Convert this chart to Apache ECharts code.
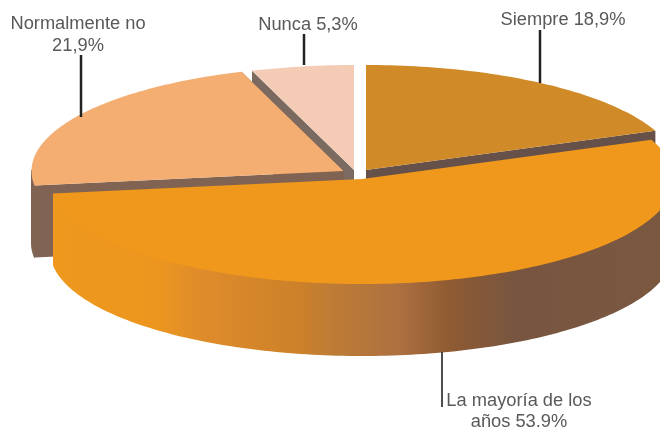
<!DOCTYPE html>
<html><head><meta charset="utf-8">
<style>html,body{margin:0;padding:0;background:#fff}#c{width:660px;height:429px}</style>
<script src="https://cdn.jsdelivr.net/npm/echarts@6/dist/echarts.min.js"></script>
</head><body><div id="c"></div>
<script>
// data (clockwise from 12 o'clock)
const categories = ['Siempre', 'La mayoría de los años', 'Normalmente no', 'Nunca'];
const values = [18.9, 53.9, 21.9, 5.3];
const valueLabels = ['18,9%', '53.9%', '21,9%', '5,3%'];

// layout & styles
const RX = 312, RY = 105, DEPTH = 72;
const centers = [[366,170],[362,179],[343.5,171],[354,170]];
const topColors = ['#d08a27','#f0981c','#f4ae72','#f4ccb6'];
const cutColors = ['#66504a','#7a5a42','#806352','#7b6a60'];
const drawOrder = [3,2,0,1];
const labelText = [
  categories[0]+' '+valueLabels[0],
  'La mayoría de los\naños '+valueLabels[1],
  categories[2]+'\n'+valueLabels[2],
  categories[3]+' '+valueLabels[3]
];
const labelPos = [[563,20],[519,411],[78,35],[308,25]];
const labelLine = [21,21,22,21];
const leaders = [[540,30,83,2.5],[442,352,407,1.6],[81,55,117,2.5],[304,34,65,2.5]];

const total = values.reduce((a,b)=>a+b,0);
const starts = []; let acc = 0;
values.forEach(v=>{starts.push(acc/total*Math.PI*2); acc+=v;});
const pt = (c,t,dy)=>[c[0]+RX*Math.sin(t), c[1]-RY*Math.cos(t)+(dy||0)];
function arc(c,a,b,dy){
  const out=[], n=Math.max(8,Math.ceil((b-a)/0.02));
  for(let i=0;i<=n;i++) out.push(pt(c,a+(b-a)*i/n,dy));
  return out;
}
const sideGradient = new echarts.graphic.LinearGradient(52,0,672,0,[
  {offset:0,color:'#ee981e'},{offset:0.17,color:'#ec961f'},{offset:0.24,color:'#df8c2b'},
  {offset:0.40,color:'#cc8129'},{offset:0.45,color:'#be7c35'},{offset:0.56,color:'#ad7040'},
  {offset:0.64,color:'#8f5b32'},{offset:0.75,color:'#775540'},{offset:1,color:'#7a5840'}
],true);

function renderSlice(params, api){
  const i = api.value(0), c = centers[i];
  const a = starts[i], b = a + api.value(1)/total*Math.PI*2;
  const children = [];
  const holdsFront = a<Math.PI && b>Math.PI;
  // cut faces: hidden on a wedge that holds the front of the pie
  if(!holdsFront){
    [a,b].forEach(t=>{
      const p = pt(c,t);
      children.push({type:'polygon',shape:{points:[c,p,[p[0],p[1]+DEPTH],[c[0],c[1]+DEPTH]]},style:{fill:cutColors[i]}});
    });
  }
  // outer wall (front half only); its upper edge sits just under the top face
  const fa = Math.max(a,Math.PI/2), fb = Math.min(b,Math.PI*1.5);
  if(fb>fa){
    const top = arc(c,fa,fb,-1), bot = arc(c,fa,fb,DEPTH).reverse();
    const wallStyle = holdsFront ? {fill:sideGradient} : {fill:cutColors[i],stroke:cutColors[i],lineWidth:1};
    children.push({type:'polygon',shape:{points:top.concat(bot)},style:wallStyle});
  }
  // top face
  children.push({type:'polygon',shape:{points:[c].concat(arc(c,a,b))},style:{fill:topColors[i]}});
  return {type:'group',children};
}
function renderLeader(params, api){
  const l = leaders[api.value(0)];
  return {type:'line',shape:{x1:l[0],y1:l[1],x2:l[0],y2:l[2]},style:{stroke:'#222',lineWidth:l[3]}};
}
function renderLabel(params, api){
  const i = api.value(0);
  return {type:'text',style:{x:labelPos[i][0],y:labelPos[i][1],text:labelText[i],fill:'#58595b',
    font:'18.3px "Liberation Sans", Arial, sans-serif',align:'center',verticalAlign:'middle',lineHeight:labelLine[i]}};
}
const sliceData = drawOrder.map(i=>[i,values[i]]);
const idx = values.map((v,i)=>[i]);
const chart = echarts.init(document.getElementById('c'),null,{renderer:'canvas'});
chart.setOption({
  animation:false, backgroundColor:'#fff',
  series:[
    {type:'custom',coordinateSystem:'none',renderItem:renderSlice,data:sliceData,silent:true,z:1},
    {type:'custom',coordinateSystem:'none',renderItem:renderLeader,data:idx,silent:true,z:2},
    {type:'custom',coordinateSystem:'none',renderItem:renderLabel,data:idx,silent:true,z:3}
  ]
});
</script></body></html>
